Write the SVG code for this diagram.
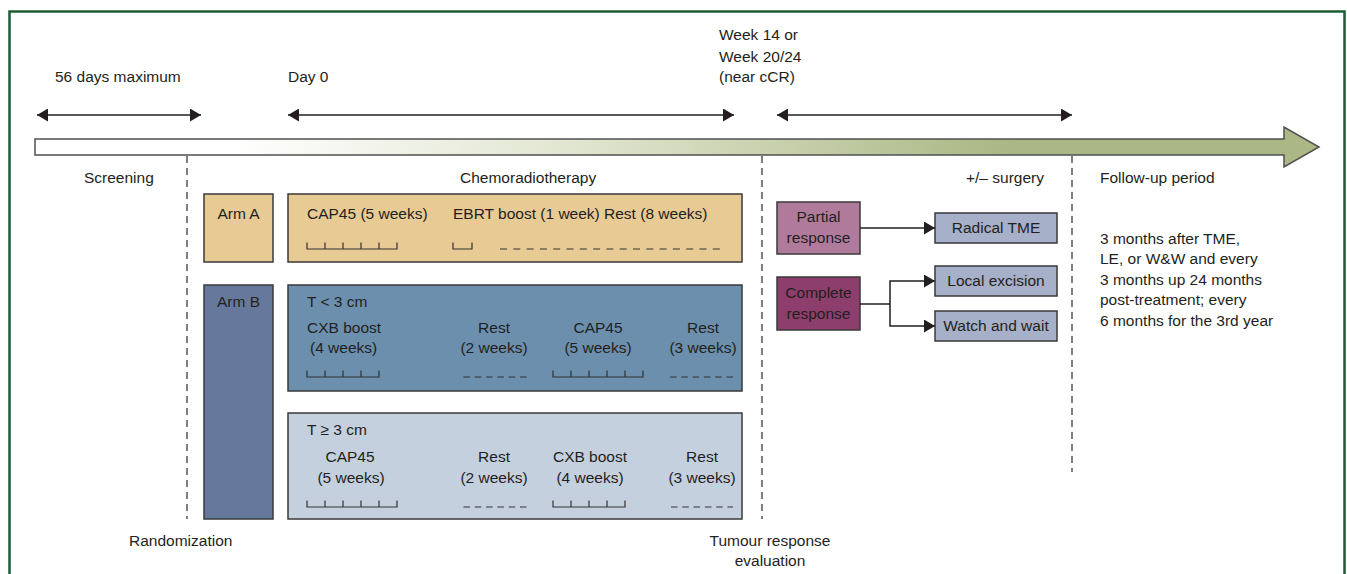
<svg xmlns="http://www.w3.org/2000/svg" width="1347" height="574" viewBox="0 0 1347 574">
<defs>
<style>
text{font-family:"Liberation Sans",Arial,sans-serif;font-size:15.5px;fill:#231f20}
.mid{text-anchor:middle}
.box{stroke:#3a3a3a;stroke-width:1.5}
.ruler{fill:none;stroke:#333;stroke-width:1.2}
.rest{fill:none;stroke:#333;stroke-width:1.2}
.vdash{fill:none;stroke:#555;stroke-width:1.5;stroke-dasharray:7 5}
.dbl{fill:none;stroke:#231f20;stroke-width:1.5;marker-start:url(#ah);marker-end:url(#ah)}
.conn{fill:none;stroke:#231f20;stroke-width:1.5}
</style>
<marker id="ah" viewBox="0 0 11 13" markerWidth="11" markerHeight="13" refX="11" refY="6.5" orient="auto-start-reverse" markerUnits="userSpaceOnUse">
<path d="M0,0 L11,6.5 L0,13 z" fill="#231f20"/>
</marker>
<linearGradient id="tl" gradientUnits="userSpaceOnUse" x1="230" y1="0" x2="1010" y2="0">
<stop offset="0" stop-color="#ffffff"/>
<stop offset="0.45" stop-color="#e0e5cf"/>
<stop offset="1" stop-color="#abb784"/>
</linearGradient>
</defs>
<rect x="9.5" y="11.5" width="1335" height="600" fill="#ffffff" stroke="#1c5c34" stroke-width="2.5"/>

<g id="timeline">
<polygon points="35,139 1284,139 1284,127 1319,147 1284,167 1284,155 35,155" fill="url(#tl)" stroke="#505050" stroke-width="1.5"/>
</g>

<g id="phase-labels">
<text x="55" y="82">56 days maximum</text>
<text x="288" y="82">Day 0</text>
<text x="719" y="40">Week 14 or</text>
<text x="719" y="61.5">Week 20/24</text>
<text x="719" y="82">(near cCR)</text>
<text x="84" y="183">Screening</text>
<text x="460" y="183">Chemoradiotherapy</text>
<text x="966" y="183">+/– surgery</text>
<text x="1100" y="183">Follow-up period</text>
<text x="129" y="546">Randomization</text>
<text x="770" y="546" class="mid">Tumour response</text>
<text x="770" y="566" class="mid">evaluation</text>
</g>

<g id="dividers">
<line x1="187" y1="156" x2="187" y2="519" class="vdash"/>
<line x1="762" y1="156" x2="762" y2="519" class="vdash"/>
<line x1="1072" y1="156" x2="1072" y2="472" class="vdash"/>
</g>

<g id="arm-a">
<rect x="204" y="194" width="69" height="68" fill="#e8ca95" class="box"/>
<text x="238.5" y="219" class="mid">Arm A</text>
</g>

<g id="arm-a-schedule">
<rect x="288" y="194" width="454" height="68" fill="#e8ca95" class="box"/>
<text x="307" y="219">CAP45 (5 weeks)</text>
<text x="453" y="219">EBRT boost (1 week) Rest (8 weeks)</text>
<path class="ruler" d="M307,242.5V249H397V242.5M325,249V242.5M343,249V242.5M361,249V242.5M379,249V242.5"/>
<path class="ruler" d="M453,242.5V249H472V242.5"/>
<line x1="500" y1="249" x2="724" y2="249" class="rest" stroke-dasharray="7 6.3"/>
</g>

<g id="arm-b">
<rect x="204" y="285" width="69" height="234" fill="#66799c" class="box"/>
<text x="238.5" y="307" class="mid">Arm B</text>
</g>

<g id="arm-b-small">
<rect x="288" y="285" width="454" height="106" fill="#6b8fad" class="box"/>
<text x="307" y="307">T &lt; 3 cm</text>
<text x="307" y="333">CXB boost</text>
<text x="310" y="353">(4 weeks)</text>
<path class="ruler" d="M307,370.5V377H379V370.5M325,377V370.5M343,377V370.5M361,377V370.5"/>
<text x="494" y="333" class="mid">Rest</text>
<text x="494" y="353" class="mid">(2 weeks)</text>
<line x1="463.5" y1="377" x2="527" y2="377" class="rest" stroke-dasharray="6.5 4.8"/>
<text x="598" y="333" class="mid">CAP45</text>
<text x="598" y="353" class="mid">(5 weeks)</text>
<path class="ruler" d="M553,370.5V377H643V370.5M571,377V370.5M589,377V370.5M607,377V370.5M625,377V370.5"/>
<text x="703" y="333" class="mid">Rest</text>
<text x="703" y="353" class="mid">(3 weeks)</text>
<line x1="670" y1="377" x2="733" y2="377" class="rest" stroke-dasharray="6.5 4.8"/>
</g>

<g id="arm-b-large">
<rect x="288" y="413" width="454" height="106" fill="#c5d0de" class="box"/>
<text x="307" y="435">T ≥ 3 cm</text>
<text x="350" y="462" class="mid">CAP45</text>
<text x="351" y="483" class="mid">(5 weeks)</text>
<path class="ruler" d="M307,500.5V507H397V500.5M325,507V500.5M343,507V500.5M361,507V500.5M379,507V500.5"/>
<text x="494" y="462" class="mid">Rest</text>
<text x="494" y="483" class="mid">(2 weeks)</text>
<line x1="463.5" y1="507" x2="527" y2="507" class="rest" stroke-dasharray="6.5 4.8"/>
<text x="590" y="462" class="mid">CXB boost</text>
<text x="590" y="483" class="mid">(4 weeks)</text>
<path class="ruler" d="M553,500.5V507H625V500.5M571,507V500.5M589,507V500.5M607,507V500.5"/>
<text x="702" y="462" class="mid">Rest</text>
<text x="702" y="483" class="mid">(3 weeks)</text>
<line x1="671" y1="507" x2="733" y2="507" class="rest" stroke-dasharray="6.5 4.8"/>
</g>

<g id="partial-response">
<rect x="777" y="202" width="83" height="52" fill="#b07b9b" class="box"/>
<text x="818.5" y="222" class="mid">Partial</text>
<text x="818.5" y="243" class="mid">response</text>
</g>

<g id="complete-response">
<rect x="777" y="277" width="83" height="53" fill="#8d3e6d" class="box"/>
<text x="818.5" y="298" class="mid">Complete</text>
<text x="818.5" y="319" class="mid">response</text>
</g>

<g id="radical-tme">
<rect x="935" y="213" width="122" height="30" fill="#a6b0c9" class="box"/>
<text x="996" y="233" class="mid">Radical TME</text>
</g>

<g id="local-excision">
<rect x="935" y="266" width="122" height="30" fill="#a6b0c9" class="box"/>
<text x="996" y="286" class="mid">Local excision</text>
</g>

<g id="watch-and-wait">
<rect x="935" y="311" width="122" height="30" fill="#a6b0c9" class="box"/>
<text x="996" y="331" class="mid">Watch and wait</text>
</g>

<g id="follow-up-note">
<text x="1100" y="243.5">3 months after TME,</text>
<text x="1100" y="264">LE, or W&amp;W and every</text>
<text x="1100" y="284.5">3 months up 24 months</text>
<text x="1100" y="305">post-treatment; every</text>
<text x="1100" y="325.5">6 months for the 3rd year</text>
</g>

<g id="connectors">
<line x1="37" y1="115" x2="201" y2="115" class="dbl"/>
<line x1="288" y1="115" x2="734" y2="115" class="dbl"/>
<line x1="777" y1="115" x2="1072" y2="115" class="dbl"/>
<line x1="860" y1="228" x2="935" y2="228" class="conn" marker-end="url(#ah)"/>
<line x1="860" y1="304" x2="890" y2="304" class="conn"/>
<path d="M935,281H890V326H935" class="conn" marker-start="url(#ah)" marker-end="url(#ah)"/>
</g>
</svg>
